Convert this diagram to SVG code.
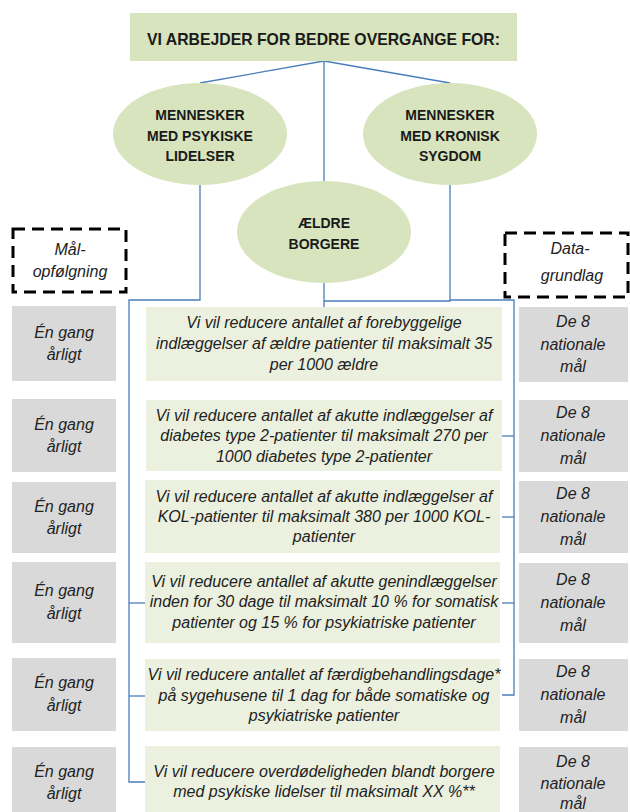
<svg xmlns="http://www.w3.org/2000/svg" width="630" height="812" viewBox="0 0 630 812">
<style>
.hdr{fill:#d7e4bd}
.ell{fill:#d7e4bd}
.row{fill:#ebf1de}
.gray{fill:#d9d9d9}
.dash{fill:none;stroke:#000;stroke-width:3;stroke-dasharray:12 7}
.conn{fill:none;stroke:#4a7ebb;stroke-width:1.3}
.b{font-family:"Liberation Sans",Arial,sans-serif;font-weight:bold;fill:#1a1a1a;text-anchor:middle}
.i{font-family:"Liberation Sans",Arial,sans-serif;font-style:italic;fill:#222;text-anchor:middle;font-size:16px}
.e{font-size:14px}
</style>
<rect width="630" height="812" fill="#fff"/>
<g id="connectors">
<path class="conn" d="M324,61 L200,83"/>
<path class="conn" d="M324,61 L450,83"/>
<path class="conn" d="M324,61 V181"/>
<path class="conn" d="M200,185 V300 H129 V782 H145"/>
<path class="conn" d="M129,603 H145"/>
<path class="conn" d="M129,696 H145"/>
<path class="conn" d="M324,283 V307"/>
<path class="conn" d="M450,185 V301 H324"/>
<path class="conn" d="M450,300 H514 V695 H502"/>
<path class="conn" d="M502,436 H514"/>
<path class="conn" d="M502,517 H514"/>
<path class="conn" d="M502,603 H514"/>
</g>
<g id="header">
<rect class="hdr" x="130" y="13" width="387" height="48"/>
<text class="b" x="323.5" y="45" font-size="16.5" textLength="353" lengthAdjust="spacingAndGlyphs">VI ARBEJDER FOR BEDRE OVERGANGE FOR:</text>
</g>
<g id="psykiske">
<ellipse class="ell" cx="200" cy="134" rx="87" ry="51"/>
<text class="b e" x="200" y="120">MENNESKER</text>
<text class="b e" x="200" y="141">MED PSYKISKE</text>
<text class="b e" x="200" y="161">LIDELSER</text>
</g>
<g id="kronisk">
<ellipse class="ell" cx="450" cy="134" rx="87" ry="51"/>
<text class="b e" x="450" y="120">MENNESKER</text>
<text class="b e" x="450" y="141">MED KRONISK</text>
<text class="b e" x="450" y="161">SYGDOM</text>
</g>
<g id="aeldre">
<ellipse class="ell" cx="324" cy="232" rx="87" ry="51"/>
<text class="b e" x="324" y="228">ÆLDRE</text>
<text class="b e" x="324" y="249">BORGERE</text>
</g>
<g id="maalopfoelgning">
<rect class="dash" x="13" y="229" width="113" height="63"/>
<text class="i" x="70" y="255">Mål-</text>
<text class="i" x="70" y="277">opfølgning</text>
</g>
<g id="datagrundlag">
<rect class="dash" x="505" y="233" width="123" height="64"/>
<text class="i" x="570" y="254">Data-</text>
<text class="i" x="572" y="281">grundlag</text>
</g>
<g id="row1">
<rect class="gray" x="12" y="306" width="104" height="75"/>
<text class="i" x="64" y="338">Én gang</text>
<text class="i" x="64" y="360">årligt</text>
<rect class="row" x="146" y="307" width="356" height="74"/>
<text class="i" x="324" y="328">Vi vil reducere  antallet af forebyggelige</text>
<text class="i" x="324" y="349">indlæggelser af ældre patienter til maksimalt 35</text>
<text class="i" x="324" y="370">per 1000 ældre</text>
<rect class="gray" x="519" y="307" width="109" height="75"/>
<text class="i" x="573" y="327">De 8</text>
<text class="i" x="573" y="350">nationale</text>
<text class="i" x="573" y="372">mål</text>
</g>
<g id="row2">
<rect class="gray" x="12" y="399" width="104" height="73"/>
<text class="i" x="64" y="430">Én gang</text>
<text class="i" x="64" y="452">årligt</text>
<rect class="row" x="146" y="400" width="356" height="71"/>
<text class="i" x="324" y="421">Vi vil reducere  antallet af akutte indlæggelser af</text>
<text class="i" x="324" y="441">diabetes type 2-patienter til maksimalt 270 per</text>
<text class="i" x="324" y="462">1000 diabetes type 2-patienter</text>
<rect class="gray" x="519" y="400" width="109" height="72"/>
<text class="i" x="573" y="418">De 8</text>
<text class="i" x="573" y="441">nationale</text>
<text class="i" x="573" y="464">mål</text>
</g>
<g id="row3">
<rect class="gray" x="12" y="482" width="104" height="71"/>
<text class="i" x="64" y="512">Én gang</text>
<text class="i" x="64" y="534">årligt</text>
<rect class="row" x="145" y="480" width="355" height="73"/>
<text class="i" x="324" y="502">Vi vil reducere  antallet af akutte indlæggelser af</text>
<text class="i" x="324" y="522">KOL-patienter  til  maksimalt  380 per 1000 KOL-</text>
<text class="i" x="324" y="542">patienter</text>
<rect class="gray" x="519" y="481" width="109" height="72"/>
<text class="i" x="573" y="499">De 8</text>
<text class="i" x="573" y="522">nationale</text>
<text class="i" x="573" y="545">mål</text>
</g>
<g id="row4">
<rect class="gray" x="12" y="562" width="104" height="81"/>
<text class="i" x="64" y="596">Én gang</text>
<text class="i" x="64" y="619">årligt</text>
<rect class="row" x="145" y="562" width="355" height="81"/>
<text class="i" x="324" y="587">Vi vil reducere  antallet af akutte genindlæggelser</text>
<text class="i" x="324" y="607">inden for 30 dage til maksimalt 10 % for somatisk</text>
<text class="i" x="324" y="628">patienter og 15 % for psykiatriske patienter</text>
<rect class="gray" x="519" y="563" width="109" height="80"/>
<text class="i" x="573" y="585">De 8</text>
<text class="i" x="573" y="608">nationale</text>
<text class="i" x="573" y="631">mål</text>
</g>
<g id="row5">
<rect class="gray" x="12" y="658" width="104" height="73"/>
<text class="i" x="64" y="688">Én gang</text>
<text class="i" x="64" y="711">årligt</text>
<rect class="row" x="145" y="659" width="355" height="72"/>
<text class="i" x="324" y="680">Vi vil reducere  antallet af færdigbehandlingsdage*</text>
<text class="i" x="324" y="701">på sygehusene til 1 dag for både somatiske og</text>
<text class="i" x="324" y="721">psykiatriske patienter</text>
<rect class="gray" x="519" y="659" width="109" height="72"/>
<text class="i" x="573" y="677">De 8</text>
<text class="i" x="573" y="700">nationale</text>
<text class="i" x="573" y="723">mål</text>
</g>
<g id="row6">
<rect class="gray" x="12" y="747" width="104" height="73"/>
<text class="i" x="64" y="777">Én gang</text>
<text class="i" x="64" y="799">årligt</text>
<rect class="row" x="145" y="746" width="355" height="74"/>
<text class="i" x="324" y="777">Vi vil reducere  overdødeligheden blandt borgere</text>
<text class="i" x="324" y="797">med psykiske lidelser til maksimalt XX %**</text>
<rect class="gray" x="519" y="747" width="109" height="73"/>
<text class="i" x="573" y="767">De 8</text>
<text class="i" x="573" y="789">nationale</text>
<text class="i" x="573" y="809">mål</text>
</g>
</svg>
